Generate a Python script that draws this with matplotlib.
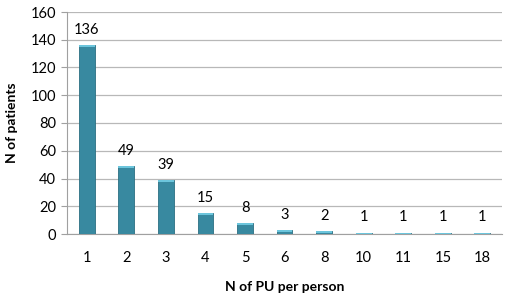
import matplotlib.pyplot as plt
import numpy as np

plt.rcParams['font.family'] = ['Lato', 'DejaVu Sans']

categories = ['1', '2', '3', '4', '5', '6', '8', '10', '11', '15', '18']
patients = [136, 49, 39, 15, 8, 3, 2, 1, 1, 1, 1]

fig = plt.figure(figsize=(5.09, 3.0), dpi=100)
ax = fig.add_axes([0.1316, 0.22, 0.855, 0.74])

x = np.arange(len(categories))
bars = ax.bar(x, patients, width=0.4, color='#3889a0', edgecolor='#2b6f82', linewidth=0.6, zorder=3)
# lighter top cap of the bevelled bars
ax.bar(x, [min(1.5, v) for v in patients], bottom=[v - min(1.5, v) for v in patients],
       width=0.4, color='#6cc5dc', linewidth=0, zorder=4)

for xi, v in zip(x, patients):
    ax.annotate(str(v), (xi, v), xytext=(0, 6), textcoords='offset points',
                ha='center', va='bottom', fontsize=10.5)

ax.set_xlim(-0.5, len(categories) - 0.5)
ax.set_ylim(0, 160)
ax.set_yticks(range(0, 161, 20))
ax.set_xticks(x)
ax.set_xticklabels(categories)
ax.tick_params(axis='x', length=0, pad=12, labelsize=10.5)
ax.tick_params(axis='y', length=4, color='#a0a0a0', pad=4, labelsize=10.5)
ax.yaxis.grid(True, color='#b8b8b8', linewidth=0.9, zorder=0)

for s in ['top', 'right']:
    ax.spines[s].set_visible(False)
for s in ['left', 'bottom']:
    ax.spines[s].set_color('#a0a0a0')

ax.set_xlabel('N of PU per person', fontsize=10, fontweight='bold', labelpad=12)
ax.set_ylabel('N of patients', fontsize=10, fontweight='bold', labelpad=9)

fig.savefig('out.png', dpi=100)
